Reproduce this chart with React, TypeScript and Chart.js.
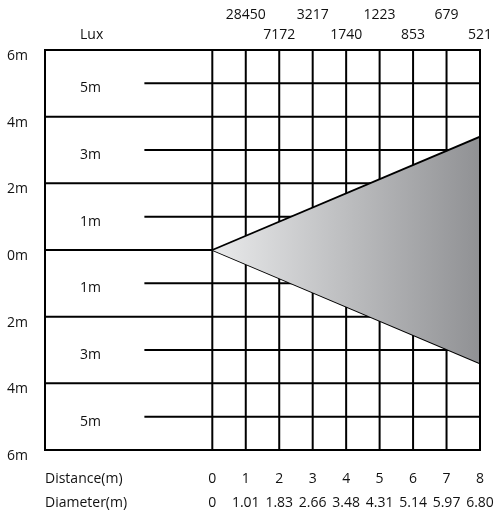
import React, { useEffect, useRef } from "react";
import { Chart, registerables } from "chart.js";

Chart.register(...registerables);

const distances = [0, 1, 2, 3, 4, 5, 6, 7, 8];
const diameters = ["0", "1.01", "1.83", "2.66", "3.48", "4.31", "5.14", "5.97", "6.80"];
const luxDistances = [1, 2, 3, 4, 5, 6, 7, 8];
const luxValues = [28450, 7172, 3217, 1740, 1223, 853, 679, 521];
const majorLevels = [6, 4, 2, 0, -2, -4, -6];
const majorLabels = ["6m", "4m", "2m", "0m", "2m", "4m", "6m"];
const minorLevels = [5, 3, 1, -1, -3, -5];
const minorLabels = ["5m", "3m", "1m", "1m", "3m", "5m"];
const coneX = [0, 8];
const coneTop = [0, 3.4];
const coneBottom = [0, -3.4];

const FONT = "14px 'Open Sans', 'Noto Sans', sans-serif";

const gridPlugin = {
  id: "photoGrid",
  beforeDatasetsDraw(chart: any) {
    const { ctx, scales } = chart;
    const x = scales.x;
    const y = scales.y;
    ctx.save();
    ctx.strokeStyle = "#000";
    ctx.lineWidth = 2;
    ctx.lineCap = "square";
    const line = (x1: number, y1: number, x2: number, y2: number) => {
      ctx.beginPath();
      ctx.moveTo(x.getPixelForValue(x1), y.getPixelForValue(y1));
      ctx.lineTo(x.getPixelForValue(x2), y.getPixelForValue(y2));
      ctx.stroke();
    };
    line(-5, 6, -5, -6);
    distances.forEach((d) => line(d, 6, d, -6));
    majorLevels.forEach((v) => line(-5, v, 8, v));
    minorLevels.forEach((v) => line(-2, v, 8, v));
    ctx.restore();
  },
  afterDatasetsDraw(chart: any) {
    const { ctx, scales } = chart;
    const x = scales.x;
    const y = scales.y;
    ctx.save();
    ctx.strokeStyle = "#000";
    ctx.lineWidth = 2;
    ctx.lineCap = "square";
    ctx.beginPath();
    ctx.moveTo(x.getPixelForValue(8), y.getPixelForValue(6));
    ctx.lineTo(x.getPixelForValue(8), y.getPixelForValue(-6));
    ctx.stroke();

    ctx.fillStyle = "#111";
    ctx.font = FONT;
    ctx.textBaseline = "middle";
    const left = x.getPixelForValue(-5);
    ctx.textAlign = "left";
    majorLevels.forEach((v, i) => {
      ctx.fillText(majorLabels[i], left - 38, y.getPixelForValue(v) + 6);
    });
    minorLevels.forEach((v, i) => {
      ctx.fillText(minorLabels[i], left + 35, y.getPixelForValue(v) + 5);
    });
    const top = y.getPixelForValue(6);
    const bottom = y.getPixelForValue(-6);
    ctx.fillText("Lux", left + 35, top - 15);
    ctx.fillText("Distance(m)", left, bottom + 29);
    ctx.fillText("Diameter(m)", left, bottom + 53);
    ctx.textAlign = "center";
    luxDistances.forEach((d, i) => {
      const rowY = i % 2 === 0 ? top - 35 : top - 15;
      ctx.fillText(String(luxValues[i]), x.getPixelForValue(d), rowY);
    });
    distances.forEach((d, i) => {
      const px = x.getPixelForValue(d);
      ctx.fillText(String(d), px, bottom + 29);
      ctx.fillText(diameters[i], px, bottom + 53);
    });
    ctx.restore();
  },
};

export default function App() {
  const ref = useRef<HTMLCanvasElement | null>(null);
  useEffect(() => {
    if (!ref.current) return;
    const gradient = (context: any) => {
      const chart = context.chart;
      const { ctx, chartArea, scales } = chart;
      if (!chartArea || !scales.x) return "#c0c1c3";
      const x0 = scales.x.getPixelForValue(coneX[0]);
      const x1 = scales.x.getPixelForValue(coneX[coneX.length - 1]);
      const g = ctx.createLinearGradient(x0, 0, x1, 0);
      g.addColorStop(0, "#e9eaeb");
      g.addColorStop(1, "#909194");
      return g;
    };
    const chart = new Chart(ref.current, {
      type: "line",
      data: {
        datasets: [
          {
            data: coneX.map((d, i) => ({ x: d, y: coneTop[i] })),
            borderColor: "#000",
            borderWidth: 1.8,
            pointRadius: 0,
            backgroundColor: gradient,
            fill: "+1",
          },
          {
            data: coneX.map((d, i) => ({ x: d, y: coneBottom[i] })),
            borderColor: "#000",
            borderWidth: 1.8,
            pointRadius: 0,
            fill: false,
          },
        ],
      },
      options: {
        animation: false,
        responsive: false,
        devicePixelRatio: 1,
        layout: { padding: { left: 45, top: 50, right: 16, bottom: 61 } },
        scales: {
          x: { type: "linear", min: -5, max: 8, display: false },
          y: { type: "linear", min: -6, max: 6, display: false },
        },
        plugins: {
          legend: { display: false },
          tooltip: { enabled: false },
        },
      },
      plugins: [gridPlugin],
    });
    return () => chart.destroy();
  }, []);
  return (
    <div style={{ position: "fixed", left: 0, top: 0, width: 496, height: 511, background: "#fff" }}>
      <canvas ref={ref} width={496} height={511} style={{ display: "block" }} />
    </div>
  );
}
